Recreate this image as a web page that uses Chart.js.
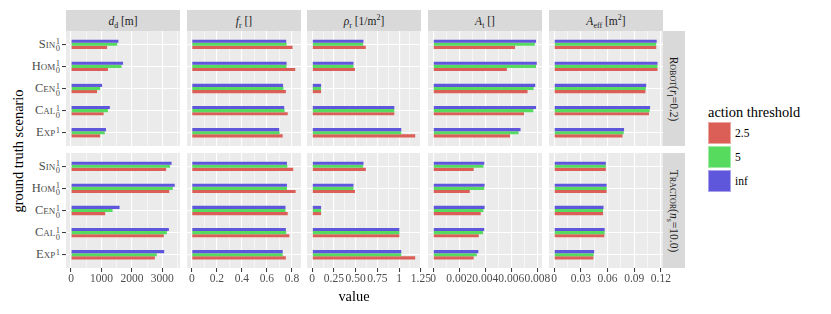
<!DOCTYPE html>
<html>
<head>
<meta charset="utf-8">
<script src="https://cdn.jsdelivr.net/npm/chart.js@4.4.1/dist/chart.umd.min.js"></script>
<style>
  body { margin: 0; background: #fff; font-family: 'Liberation Serif', 'DejaVu Serif', serif; color: #1a1a1a; }
  #fig { position: relative; width: 831px; height: 314px; overflow: hidden; }
  #fig canvas { position: absolute; }
  .strip { position: absolute; background: #d9d9d9; font-size: 11.5px; display: flex; align-items: center; justify-content: center; white-space: nowrap; color: #1a1a1a; }
  .strip sub, .strip sup { font-size: 8px; line-height: 0; }
  .rot { display: inline-block; transform: rotate(90deg); white-space: nowrap; }
  .sc { font-variant: small-caps; }
  .ylab { position: absolute; height: 16px; display: flex; align-items: center; justify-content: flex-end; font-size: 12.5px; color: #4d4d4d; white-space: nowrap; }
  .ss { display: inline-flex; flex-direction: column; font-size: 8.5px; line-height: 7px; margin-left: 0.5px; margin-top: 2px; }
  .title { position: absolute; font-size: 14.4px; color: #000; white-space: nowrap; }
  .key { position: absolute; width: 23px; height: 22px; box-sizing: border-box; border: 1px solid rgba(255,255,255,0.45); }
  .klab { position: absolute; font-size: 11.5px; color: #000; line-height: 22px; }
</style>
</head>
<body>
<div id="fig"></div>
<script>
// categories (top to bottom)
const scenarios = ['Sin', 'Hom', 'Cen', 'Cal', 'Exp'];
const scenarioSup = ['1', '1', '1', '1', '1'];
const scenarioSub = ['0', '0', '0', '0', ''];

const thresholds = ['2.5', '5', 'inf'];
const thresholdColors = ['#db5f57', '#57db5f', '#5f57db'];

// Robot (r_l = 0.2)
const dd_robot_25  = [1186, 1212, 855, 1071, 957];
const dd_robot_5   = [1518, 1658, 957, 1212, 1110];
const dd_robot_inf = [1556, 1709, 1020, 1276, 1148];
const fr_robot_25  = [0.804, 0.826, 0.751, 0.766, 0.726];
const fr_robot_5   = [0.757, 0.757, 0.732, 0.741, 0.701];
const fr_robot_inf = [0.754, 0.757, 0.729, 0.738, 0.698];
const rho_robot_25  = [0.617, 0.492, 0.102, 0.945, 1.185];
const rho_robot_5   = [0.586, 0.475, 0.102, 0.945, 1.025];
const rho_robot_inf = [0.590, 0.475, 0.102, 0.945, 1.025];
const at_robot_25  = [0.00629, 0.00566, 0.00725, 0.00698, 0.00590];
const at_robot_5   = [0.00781, 0.00790, 0.00772, 0.00769, 0.00656];
const at_robot_inf = [0.00790, 0.00796, 0.00784, 0.00790, 0.00671];
const aeff_robot_25  = [0.1148, 0.1162, 0.1026, 0.1066, 0.0769];
const aeff_robot_5   = [0.1148, 0.1162, 0.1031, 0.1074, 0.0782];
const aeff_robot_inf = [0.1153, 0.1162, 0.1035, 0.1079, 0.0786];

// Tractor (n_s = 10.0)
const dd_tractor_25  = [3125, 3227, 1122, 3048, 2755];
const dd_tractor_5   = [3253, 3342, 1365, 3151, 2819];
const dd_tractor_inf = [3304, 3406, 1594, 3214, 3061];
const fr_tractor_25  = [0.810, 0.829, 0.766, 0.779, 0.751];
const fr_tractor_5   = [0.763, 0.760, 0.748, 0.754, 0.726];
const fr_tractor_inf = [0.760, 0.760, 0.748, 0.751, 0.726];
const rho_tractor_25  = [0.617, 0.492, 0.102, 1.003, 1.185];
const rho_tractor_5   = [0.586, 0.475, 0.102, 1.003, 1.025];
const rho_tractor_inf = [0.590, 0.475, 0.102, 1.003, 1.025];
const at_tractor_25  = [0.00311, 0.00281, 0.00365, 0.00350, 0.00311];
const at_tractor_5   = [0.00386, 0.00392, 0.00386, 0.00383, 0.00335];
const at_tractor_inf = [0.00392, 0.00395, 0.00395, 0.00392, 0.00347];
const aeff_tractor_25  = [0.0581, 0.0590, 0.0550, 0.0564, 0.0441];
const aeff_tractor_5   = [0.0581, 0.0590, 0.0550, 0.0568, 0.0445];
const aeff_tractor_inf = [0.0581, 0.0590, 0.0555, 0.0568, 0.0450];

// tick labels per column (major), minor lines sit halfway between
const ddTicks = [0, 1000, 2000, 3000];
const ddTickLabels = ['0', '1000', '2000', '3000'];
const frTicks = [0, 0.2, 0.4, 0.6, 0.8];
const frTickLabels = ['0', '0.2', '0.4', '0.6', '0.8'];
const rhoTicks = [0, 0.25, 0.5, 0.75, 1, 1.25];
const rhoTickLabels = ['0', '0.25', '0.50', '0.75', '1', '1.25'];
const atTicks = [0, 0.002, 0.004, 0.006, 0.008];
const atTickLabels = ['0', '0.002', '0.004', '0.006', '0.008'];
const aeffTicks = [0, 0.03, 0.06, 0.09, 0.12];
const aeffTickLabels = ['0', '0.03', '0.06', '0.09', '0.12'];

const colHeads = [
  '<i>d</i><sub>d</sub>&nbsp;[m]',
  '<i>f</i><sub>r</sub>&nbsp;[]',
  '<i>ρ</i><sub>r</sub>&nbsp;[1/m<sup>2</sup>]',
  '<i>A</i><sub>t</sub>&nbsp;[]',
  '<i>A</i><sub>eff</sub>&nbsp;[m<sup>2</sup>]'
];
const rowHeads = [
  '<span class="sc">Robot</span>(<i>r</i><sub>l</sub>=0.2)',
  '<span class="sc">Tractor</span>(<i>n</i><sub>s</sub>=10.0)'
];

const series = [
  [[dd_robot_25, dd_robot_5, dd_robot_inf], [fr_robot_25, fr_robot_5, fr_robot_inf],
   [rho_robot_25, rho_robot_5, rho_robot_inf], [at_robot_25, at_robot_5, at_robot_inf],
   [aeff_robot_25, aeff_robot_5, aeff_robot_inf]],
  [[dd_tractor_25, dd_tractor_5, dd_tractor_inf], [fr_tractor_25, fr_tractor_5, fr_tractor_inf],
   [rho_tractor_25, rho_tractor_5, rho_tractor_inf], [at_tractor_25, at_tractor_5, at_tractor_inf],
   [aeff_tractor_25, aeff_tractor_5, aeff_tractor_inf]]
];

const axes = [
  { min: -165, max: 3580, ticks: ddTicks, labels: ddTickLabels },
  { min: -0.038, max: 0.872, ticks: frTicks, labels: frTickLabels },
  { min: -0.06, max: 1.252, ticks: rhoTicks, labels: rhoTickLabels },
  { min: -0.0004, max: 0.00836, ticks: atTicks, labels: atTickLabels },
  { min: -0.0058, max: 0.1224, ticks: aeffTicks, labels: aeffTickLabels }
];

const fig = document.getElementById('fig');
const panelLeft = [66, 187, 307, 428, 549];
const panelTop = [31, 153];
const PW = 114, PH = 115;
const FONT = "'Liberation Serif', 'DejaVu Serif', serif";

const panelBg = {
  id: 'panelBg',
  beforeDraw(chart) {
    const a = chart.chartArea, ctx = chart.ctx;
    ctx.save();
    ctx.fillStyle = '#ebebeb';
    ctx.fillRect(a.left, a.top, a.right - a.left, a.bottom - a.top);
    ctx.restore();
  }
};

// major breaks plus the minor ones halfway between them (and one past the ends)
function breaksFor(ax) {
  const t = ax.ticks, half = (t[1] - t[0]) / 2;
  const out = [];
  for (let i = 0; i < t.length; i++) {
    out.push({ value: t[i], major: true, label: ax.labels[i] });
    out.push({ value: t[i] + half, major: false, label: '' });
  }
  return out.filter(b => b.value >= ax.min && b.value <= ax.max);
}

function addDiv(cls, html, css) {
  const d = document.createElement('div');
  d.className = cls;
  d.innerHTML = html;
  Object.assign(d.style, css);
  fig.appendChild(d);
  return d;
}

// strips
panelLeft.forEach((x, c) => {
  addDiv('strip', '<span>' + colHeads[c] + '</span>', { left: x + 'px', top: '10px', width: PW + 'px', height: '21px' });
});
panelTop.forEach((y, r) => {
  addDiv('strip', '<span class="rot">' + rowHeads[r] + '</span>',
    { left: '663px', top: y + 'px', width: '22px', height: PH + 'px' });
});

// panels
for (let r = 0; r < 2; r++) {
  for (let c = 0; c < 5; c++) {
    const ax = axes[c];
    const brk = breaksFor(ax);
    const isMajor = v => brk.some(b => b.major && Math.abs(b.value - v) < 1e-9);
    const yW = c === 0 ? 6 : 0;
    const exR = r === 1 ? 14 : 0;
    const xH = r === 1 ? 24 : 0;
    const cv = document.createElement('canvas');
    cv.width = PW + yW + exR;
    cv.height = PH + xH;
    cv.style.left = (panelLeft[c] - yW) + 'px';
    cv.style.top = panelTop[r] + 'px';
    cv.style.width = cv.width + 'px';
    cv.style.height = cv.height + 'px';
    fig.appendChild(cv);

    // inf on top, then 5, then 2.5
    const datasets = [2, 1, 0].map(k => ({
      label: thresholds[k],
      data: series[r][c][k].map((v, i) => ({ x: v, y: i })),
      backgroundColor: thresholdColors[k],
      borderWidth: 0,
      categoryPercentage: 0.42,
      barPercentage: 1
    }));

    const chart = new Chart(cv, {
      type: 'bar',
      data: { datasets },
      options: {
        indexAxis: 'y',
        responsive: false,
        animation: false,
        devicePixelRatio: 1,
        events: [],
        layout: { padding: { left: 0, right: exR, top: 0, bottom: 0 } },
        plugins: { legend: { display: false }, tooltip: { enabled: false } },
        scales: {
          x: {
            type: 'linear', position: 'bottom', min: ax.min, max: ax.max, bounds: 'data', offset: false,
            border: { display: false },
            afterBuildTicks: s => { s.ticks = brk.map(b => ({ value: b.value })); },
            grid: {
              offset: false,
              color: '#ffffff',
              lineWidth: ctx => isMajor(ctx.tick.value) ? 1.1 : 0.55,
              drawTicks: r === 1, tickLength: 4, tickWidth: 1,
              tickColor: ctx => isMajor(ctx.tick.value) ? '#333333' : 'rgba(0,0,0,0)'
            },
            ticks: {
              display: r === 1, autoSkip: false, maxRotation: 0, minRotation: 0, padding: 0,
              color: '#4d4d4d', font: { family: FONT, size: 11.5 },
              callback: v => { const b = brk.find(q => Math.abs(q.value - v) < 1e-9); return b ? b.label : ''; }
            },
            afterFit: s => { s.height = xH; s.paddingLeft = 0; s.paddingRight = 0; }
          },
          y: {
            type: 'linear', reverse: true, min: -0.6, max: 4.6, bounds: 'data', offset: false,
            border: { display: false },
            afterBuildTicks: s => { s.ticks = scenarios.map((n, i) => ({ value: i })); },
            grid: { offset: false, color: '#ffffff', lineWidth: 1.1, drawTicks: c === 0, tickLength: 4, tickWidth: 1, tickColor: '#333333' },
            ticks: { display: false },
            afterFit: s => { s.width = yW; s.paddingTop = 0; s.paddingBottom = 0; }
          }
        }
      },
      plugins: [panelBg]
    });

    if (c === 0) {
      scenarios.forEach((name, i) => {
        const yc = panelTop[r] + chart.scales.y.getPixelForValue(i);
        const html = '<span class="sc">' + name + '</span><span class="ss"><span>' + scenarioSup[i] +
          '</span><span>' + (scenarioSub[i] || '&nbsp;') + '</span></span>';
        addDiv('ylab', html, { right: (831 - 60) + 'px', top: (yc - 8) + 'px' });
      });
    }
  }
}

// axis titles
const xt = addDiv('title', 'value', { left: '354px', top: '288px' });
xt.style.transform = 'translateX(-50%)';
const yt = addDiv('title', 'ground truth scenario', { left: '18px', top: '151px' });
yt.style.transform = 'translate(-50%, -50%) rotate(-90deg)';

// legend
addDiv('title', 'action threshold', { left: '708px', top: '104px' });
thresholds.forEach((t, k) => {
  addDiv('key', '', { left: '708px', top: (122 + k * 24) + 'px', background: thresholdColors[k] });
  addDiv('klab', t, { left: '735px', top: (122 + k * 24) + 'px' });
});
</script>
</body>
</html>
